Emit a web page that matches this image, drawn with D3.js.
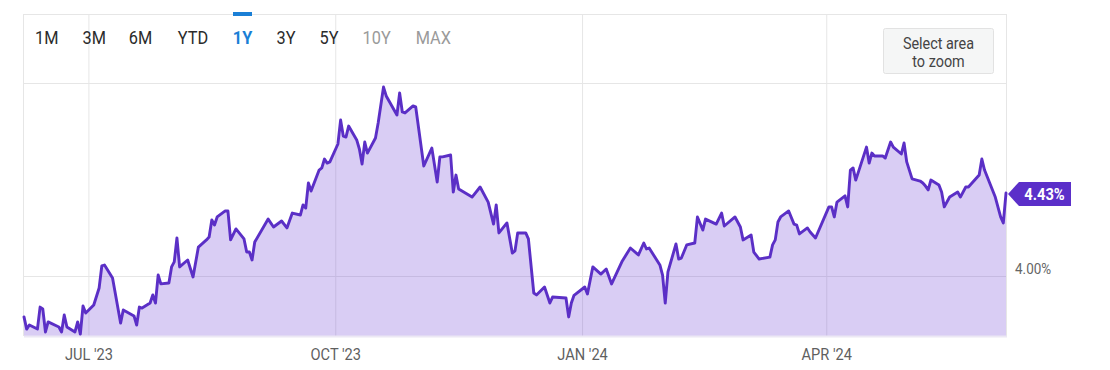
<!DOCTYPE html>
<html>
<head>
<meta charset="utf-8">
<script src="https://cdn.jsdelivr.net/npm/d3@7"></script>
<style>
  html, body { margin: 0; padding: 0; background: #fff; }
  svg { display: block; font-family: Roboto, "Noto Sans", sans-serif; }
</style>
</head>
<body>
<svg id="chart" width="1110" height="370"></svg>
<script>
// ---------- data ----------
const dates = [
"2023-06-07","2023-06-08","2023-06-09","2023-06-12","2023-06-13","2023-06-14","2023-06-15","2023-06-16","2023-06-20","2023-06-21",
"2023-06-22","2023-06-23","2023-06-26","2023-06-27","2023-06-28","2023-06-29","2023-06-30","2023-07-03","2023-07-05","2023-07-06",
"2023-07-07","2023-07-10","2023-07-13","2023-07-14","2023-07-18","2023-07-19","2023-07-20","2023-07-21","2023-07-24","2023-07-25",
"2023-07-26","2023-07-27","2023-07-28","2023-07-31","2023-08-01","2023-08-02","2023-08-03","2023-08-04","2023-08-07","2023-08-09",
"2023-08-11","2023-08-14","2023-08-15","2023-08-16","2023-08-17","2023-08-18","2023-08-21","2023-08-22","2023-08-23","2023-08-25",
"2023-08-28","2023-08-29","2023-08-30","2023-08-31","2023-09-01","2023-09-06","2023-09-08","2023-09-11","2023-09-13","2023-09-15",
"2023-09-18","2023-09-19","2023-09-20","2023-09-21","2023-09-22","2023-09-25","2023-09-26","2023-09-27","2023-09-28","2023-09-29",
"2023-10-02","2023-10-03","2023-10-04","2023-10-05","2023-10-06","2023-10-09","2023-10-10","2023-10-11","2023-10-12","2023-10-13",
"2023-10-16","2023-10-17","2023-10-19","2023-10-20","2023-10-24","2023-10-25","2023-10-26","2023-10-27","2023-10-30","2023-10-31",
"2023-11-03","2023-11-06","2023-11-08","2023-11-09","2023-11-10","2023-11-13","2023-11-14","2023-11-15","2023-11-16","2023-11-21",
"2023-11-24","2023-11-27","2023-11-29","2023-11-30","2023-12-01","2023-12-04","2023-12-06","2023-12-07","2023-12-08","2023-12-11",
"2023-12-12","2023-12-14","2023-12-15","2023-12-18","2023-12-20","2023-12-21","2023-12-26","2023-12-27","2023-12-28","2023-12-29",
"2024-01-02","2024-01-03","2024-01-05","2024-01-08","2024-01-10","2024-01-12","2024-01-16","2024-01-19","2024-01-22","2024-01-24",
"2024-01-25","2024-01-26","2024-01-30","2024-01-31","2024-02-01","2024-02-02","2024-02-05","2024-02-06","2024-02-07","2024-02-09",
"2024-02-12","2024-02-13","2024-02-15","2024-02-16","2024-02-20","2024-02-22","2024-02-23","2024-02-27","2024-02-29","2024-03-01",
"2024-03-04","2024-03-05","2024-03-07","2024-03-11","2024-03-12","2024-03-13","2024-03-14","2024-03-15","2024-03-18","2024-03-20",
"2024-03-21","2024-03-22","2024-03-25","2024-03-26","2024-03-28","2024-04-02","2024-04-03","2024-04-04","2024-04-05","2024-04-08",
"2024-04-09","2024-04-10","2024-04-11","2024-04-12","2024-04-16","2024-04-17","2024-04-18","2024-04-19","2024-04-22","2024-04-23",
"2024-04-25","2024-04-26","2024-04-29","2024-04-30","2024-05-01","2024-05-03","2024-05-06","2024-05-07","2024-05-08","2024-05-09",
"2024-05-10","2024-05-13","2024-05-14","2024-05-15","2024-05-17","2024-05-20","2024-05-21","2024-05-23","2024-05-24","2024-05-28",
"2024-05-29","2024-05-30","2024-06-03","2024-06-05","2024-06-06","2024-06-07"
];
const yields = [
3.788,3.725,3.746,3.725,3.839,3.829,3.710,3.762,3.736,3.710,
3.798,3.736,3.710,3.762,3.699,3.845,3.808,3.850,3.938,4.052,
4.057,3.990,3.756,3.824,3.793,3.746,3.839,3.834,3.860,3.902,
3.860,4.005,3.959,3.964,4.047,4.073,4.197,4.047,4.083,3.995,
4.150,4.187,4.202,4.290,4.264,4.306,4.337,4.337,4.187,4.244,
4.192,4.124,4.124,4.083,4.176,4.295,4.254,4.285,4.249,4.326,
4.316,4.368,4.352,4.482,4.440,4.549,4.560,4.606,4.585,4.591,
4.684,4.808,4.725,4.720,4.777,4.705,4.658,4.580,4.694,4.637,
4.715,4.793,4.979,4.933,4.834,4.948,4.850,4.845,4.881,4.876,
4.570,4.663,4.487,4.617,4.617,4.627,4.435,4.523,4.451,4.409,
4.461,4.383,4.269,4.368,4.223,4.275,4.119,4.130,4.223,4.223,
4.192,3.912,3.902,3.943,3.860,3.891,3.886,3.788,3.860,3.900,
3.943,3.907,4.047,4.010,4.036,3.959,4.078,4.145,4.109,4.171,
4.140,4.145,4.057,4.005,3.860,4.021,4.166,4.088,4.093,4.161,
4.171,4.306,4.238,4.295,4.269,4.326,4.259,4.306,4.254,4.187,
4.212,4.124,4.088,4.098,4.161,4.187,4.280,4.306,4.337,4.269,
4.264,4.218,4.249,4.228,4.197,4.358,4.358,4.306,4.383,4.415,
4.358,4.549,4.560,4.497,4.668,4.585,4.637,4.622,4.622,4.611,
4.694,4.668,4.632,4.689,4.591,4.503,4.492,4.482,4.466,4.446,
4.497,4.472,4.435,4.358,4.409,4.435,4.409,4.461,4.461,4.523,
4.606,4.549,4.409,4.306,4.275,4.430
];
const rangeButtons = ["1M","3M","6M","YTD","1Y","3Y","5Y","10Y","MAX"];
const activeButton = "1Y";
const disabledButtons = ["10Y","MAX"];
const xTickDates = ["2023-07-01","2023-10-01","2024-01-01","2024-04-01"];
const xTickLabels = ["JUL '23","OCT '23","JAN '24","APR '24"];
const yTicks = [4.0, 5.0];
const yTickLabels = ["4.00%", ""];
const domainStart = "2023-06-07";
const domainEnd = "2024-06-07";
const lastLabel = "4.43%";
const zoomText = ["Select area", "to zoom"];

// ---------- setup ----------
const parse = d3.timeParse("%Y-%m-%d");
const data = dates.map((d, i) => ({ date: parse(d), value: yields[i] }));

const svg = d3.select("#chart");
const plot = { left: 24, right: 1006, top: 14, bottom: 336 };

const x = d3.scaleTime()
  .domain([parse(domainStart), parse(domainEnd)])
  .range([plot.left, plot.right]);
const y = d3.scaleLinear()
  .domain([4, 5])
  .range([276, 83]);

const gridColor = "#e6e6e6";
const lineColor = "#5b2fc6";

// frame lines
const frame = svg.append("g");
frame.append("line")
  .attr("x1", plot.left).attr("x2", plot.right)
  .attr("y1", plot.top + 0.5).attr("y2", plot.top + 0.5)
  .attr("stroke", gridColor);
frame.append("line")
  .attr("x1", plot.left - 0.5).attr("x2", plot.left - 0.5)
  .attr("y1", plot.top).attr("y2", plot.bottom)
  .attr("stroke", gridColor);
frame.append("line")
  .attr("x1", plot.right + 0.5).attr("x2", plot.right + 0.5)
  .attr("y1", plot.top).attr("y2", plot.bottom)
  .attr("stroke", gridColor);

// vertical grid via axis
const xAxisGrid = d3.axisBottom(x)
  .tickValues(xTickDates.map(parse))
  .tickSize(-(plot.bottom - plot.top))
  .tickFormat("");
svg.append("g")
  .attr("transform", `translate(0,${plot.bottom})`)
  .call(xAxisGrid)
  .call(g => g.select(".domain").remove())
  .call(g => g.selectAll("line").attr("stroke", gridColor));

// horizontal grid via axis
const yAxisGrid = d3.axisRight(y)
  .tickValues(yTicks)
  .tickSize(-(plot.right - plot.left))
  .tickFormat("");
svg.append("g")
  .attr("transform", `translate(${plot.right},0)`)
  .call(yAxisGrid)
  .call(g => g.select(".domain").remove())
  .call(g => g.selectAll("line").attr("stroke", gridColor));

// area + line
const area = d3.area()
  .x(d => x(d.date))
  .y0(plot.bottom)
  .y1(d => y(d.value));
svg.append("path")
  .datum(data)
  .attr("d", area)
  .attr("fill", "rgba(110, 60, 212, 0.26)");

// bottom edge
svg.append("line")
  .attr("x1", plot.left).attr("x2", plot.right + 1)
  .attr("y1", plot.bottom + 0.5).attr("y2", plot.bottom + 0.5)
  .attr("stroke", "#ece8f4").attr("stroke-width", 2);

const line = d3.line()
  .x(d => x(d.date))
  .y(d => y(d.value));
svg.append("path")
  .datum(data)
  .attr("d", line)
  .attr("fill", "none")
  .attr("stroke", lineColor)
  .attr("stroke-width", 2.9)
  .attr("stroke-linejoin", "round")
  .attr("stroke-linecap", "round");

// x tick labels
const xAxis = d3.axisBottom(x)
  .tickValues(xTickDates.map(parse))
  .tickSize(0)
  .tickFormat((d, i) => xTickLabels[i]);
svg.append("g")
  .attr("transform", `translate(0,${plot.bottom})`)
  .call(xAxis)
  .call(g => g.select(".domain").remove())
  .call(g => g.selectAll("text")
    .attr("y", 0).attr("dy", 0)
    .attr("transform", "translate(0,24) scale(0.86,1)")
    .attr("font-family", "Roboto, sans-serif")
    .attr("font-size", 17)
    .attr("fill", "#5f5f5f"));

// y tick labels
const yAxis = d3.axisRight(y)
  .tickValues(yTicks)
  .tickSize(0)
  .tickFormat((d, i) => yTickLabels[i]);
svg.append("g")
  .attr("transform", `translate(${plot.right},0)`)
  .call(yAxis)
  .call(g => g.select(".domain").remove())
  .call(g => g.selectAll("text")
    .attr("x", 0).attr("dy", 0)
    .attr("text-anchor", "start")
    .attr("transform", "translate(9,-3) scale(0.9,1)")
    .attr("font-family", "Roboto, sans-serif")
    .attr("font-size", 15)
    .attr("fill", "#666"));

// last value label
const last = data[data.length - 1];
const ly = y(last.value);
const lx = x(last.date);
const tag = svg.append("g").attr("transform", `translate(${lx + 2},${ly + 1})`);
tag.append("path")
  .attr("d", "M0,0 L11,-12 L63,-12 L63,12 L11,12 Z")
  .attr("fill", "#5b2fc9");
tag.append("text")
  .attr("x", 0).attr("y", 0)
  .attr("transform", "translate(36.5,6) scale(0.92,1)")
  .attr("text-anchor", "middle")
  .attr("font-family", "Roboto, sans-serif")
  .attr("font-weight", "bold")
  .attr("font-size", 16)
  .attr("fill", "#fff")
  .text(lastLabel);

// range buttons
const btnX = [46.7, 94.3, 140.5, 193, 242.5, 286, 329, 376.7, 433.3];
const btns = svg.append("g");
rangeButtons.forEach((b, i) => {
  const active = b === activeButton;
  const disabled = disabledButtons.includes(b);
  btns.append("text")
    .attr("transform", `translate(${btnX[i]},43.5) scale(0.86,1)`)
    .attr("text-anchor", "middle")
    .attr("font-family", "Roboto, sans-serif")
    .attr("font-size", 19)
    .attr("font-weight", active ? "bold" : "normal")
    .attr("fill", active ? "#1a7fd6" : (disabled ? "#9a9a9a" : "#2b2b2b"))
    .text(b);
  if (active) {
    btns.append("rect")
      .attr("x", btnX[i] - 9.5).attr("y", 12)
      .attr("width", 19).attr("height", 4)
      .attr("fill", "#1a7fd6");
  }
});

// zoom button
const zb = svg.append("g");
zb.append("rect")
  .attr("x", 883.5).attr("y", 28.5)
  .attr("width", 110).attr("height", 45)
  .attr("rx", 2)
  .attr("fill", "#f5f6f6")
  .attr("stroke", "#e2e2e2");
zoomText.forEach((t, i) => {
  zb.append("text")
    .attr("transform", `translate(938.5,${49 + i * 18}) scale(0.9,1)`)
    .attr("text-anchor", "middle")
    .attr("font-family", "Roboto, sans-serif")
    .attr("font-size", 16)
    .attr("fill", "#444")
    .text(t);
});
</script>
</body>
</html>
